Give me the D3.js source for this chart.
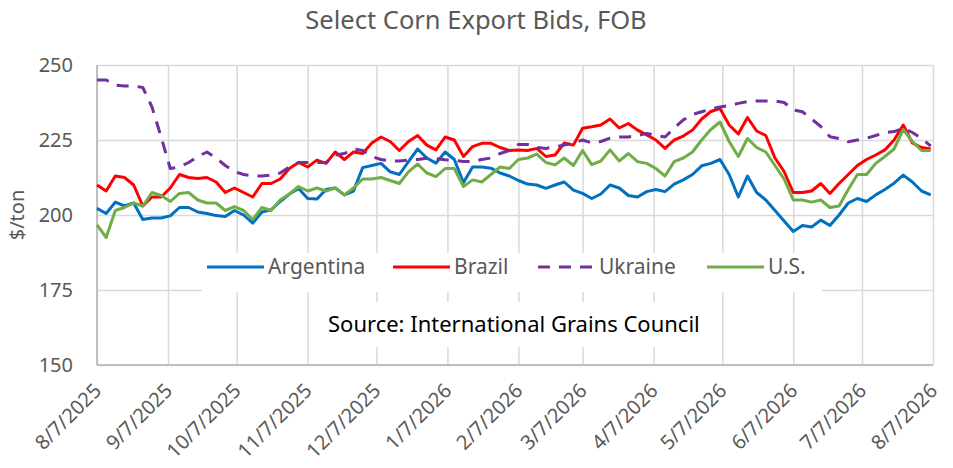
<!DOCTYPE html>
<html>
<head>
<meta charset="utf-8">
<script src="https://cdn.jsdelivr.net/npm/d3@7"></script>
<style>
  body { margin: 0; background: #fff; }
  svg { display: block; font-family: "Noto Sans", "Open Sans", sans-serif; }
</style>
</head>
<body>
<div id="chart"></div>
<script>
// Chart data (one point every 4 days from 8/7/2025).
const chartTitle = 'Select Corn Export Bids, FOB';
const yTitle = '$/ton';
const sourceNote = 'Source: International Grains Council';
const startDate = '8/7/2025';
const stepDays = 4;
const monthTicks = ['8/7/2025', '9/7/2025', '10/7/2025', '11/7/2025', '12/7/2025', '1/7/2026',
  '2/7/2026', '3/7/2026', '4/7/2026', '5/7/2026', '6/7/2026', '7/7/2026', '8/7/2026'];
const yTicks = [150, 175, 200, 225, 250];
const seriesNames = ['Argentina', 'Brazil', 'Ukraine', 'U.S.'];

const argentina = [202.2, 200.5, 204.3, 203, 204, 198.5, 199, 199, 199.7, 202.5,
  202.5, 201, 200.5, 199.8, 199.5, 201.5, 200, 197.3, 201, 201.7,
  204.5, 207, 208.8, 205.5, 205.3, 208.5, 209, 206.7, 208, 215.8,
  216.5, 217.2, 214.4, 213.5, 217.8, 222, 219, 217.3, 221, 218.5,
  210.8, 216, 216, 215.6, 214, 213, 211.5, 210.3, 210, 208.9,
  210, 211, 208.3, 207.2, 205.5, 207, 210, 209, 206.5, 206,
  207.8, 208.5, 207.8, 210.3, 211.7, 213.5, 216.4, 217.2, 218.5, 213.5,
  206, 213, 207.5, 205, 201.5, 198, 194.5, 196.5, 196, 198.3,
  196.5, 200, 204, 205.5, 204.5, 206.7, 208.5, 210.6, 213.3, 211,
  208, 206.7];
const brazil = [210, 208, 213, 212.5, 210, 203, 206, 206, 209, 213.5,
  212.5, 212.2, 212.5, 211, 207.5, 209, 207.5, 206, 210.5, 210.5,
  212, 215.5, 217.5, 216, 218.3, 217.2, 221, 218.5, 221, 220.5,
  224, 226, 224.5, 221.5, 224.5, 226.5, 223.3, 221.7, 226, 225,
  219.5, 222.8, 223.9, 223.9, 222.5, 221.5, 221.7, 221.5, 222.2, 219.5,
  220, 224, 223.3, 228.9, 229.4, 230, 232, 229, 230.5, 228.3,
  226.7, 225, 222.2, 225, 226.3, 228.3, 232, 234.5, 235.5, 230,
  227, 232.5, 228, 226.5, 219, 214.5, 207.5, 207.5, 208, 210.5,
  207.2, 210.5, 213.5, 216.5, 218.5, 220, 221.7, 225, 230, 224,
  222.5, 222];
const ukraine = [245, 245, 243.3, 243, 243, 242.5, 236, 226, 215.5, 216,
  217.5, 219.5, 221, 219, 216.5, 214.5, 213.5, 213, 213, 213.3,
  214, 216, 217.5, 217.5, 217.5, 217.5, 220, 220.5, 222, 221.5,
  219.5, 218.5, 218, 218, 218.3, 218.5, 218.9, 218.8, 218.4, 218.3,
  217.8, 217.8, 218.5, 219, 220.5, 221.5, 223.5, 223.5, 222.5, 222.2,
  222.7, 223.3, 224, 225, 224, 224.5, 225.6, 226, 226, 226.5,
  227.2, 226.5, 226, 229, 231.7, 233.5, 234.4, 235.3, 236, 236.5,
  237.2, 237.8, 238, 238, 238, 237.5, 235, 234.4, 232, 229.5,
  226.1, 225.5, 224.4, 225, 225.6, 226.5, 227.5, 227.8, 228.9, 227.5,
  225.5, 223];
const usa = [196.7, 192.5, 201.5, 202.5, 204, 203, 207.5, 206.5, 204.5, 207.2,
  207.5, 205, 204, 204, 201.5, 202.8, 201.5, 198.5, 202.5, 201.5,
  205, 207, 209.5, 208, 209, 208, 209, 206.7, 209, 212,
  212, 212.5, 211.5, 210.5, 214.4, 217, 214, 212.8, 215.5, 215.5,
  209.5, 211.7, 211, 213.5, 216, 215.5, 218.5, 219, 220.3, 217.5,
  216.7, 219, 216.5, 221.5, 216.8, 218, 221.7, 218, 220.5, 217.8,
  217.2, 215.5, 213, 217.8, 219, 221, 225, 228.5, 231, 224.5,
  219.5, 225.5, 222.5, 221, 216.5, 212, 205, 205, 204.3, 205,
  202.5, 203, 208.5, 213.5, 213.5, 217.2, 219.5, 222, 228.5, 224.5,
  221.5, 221.5];

const colors = ['#0070C0', '#FF0000', '#7030A0', '#70AD47'];
const dashes = [null, null, '12,9', null];

const width = 953;
const height = 468;
const margin = { top: 65, right: 20, bottom: 103, left: 97 };
const plotW = width - margin.left - margin.right;
const plotH = height - margin.top - margin.bottom;

const parseDate = d3.timeParse('%m/%d/%Y');
const formatDate = d3.timeFormat('%-m/%-d/%Y');
const start = parseDate(startDate);
const dates = argentina.map((_, i) => d3.timeDay.offset(start, i * stepDays));
const tickDates = monthTicks.map(parseDate);

const allSeries = [argentina, brazil, ukraine, usa].map((values, k) => ({
    name: seriesNames[k],
    color: colors[k],
    dash: dashes[k],
    points: values.map((v, i) => ({ date: dates[i], value: v }))
}));

const svg = d3.select('#chart').append('svg')
    .attr('width', width)
    .attr('height', height);

const x = d3.scaleTime()
    .domain([tickDates[0], tickDates[tickDates.length - 1]])
    .range([0, plotW]);
const y = d3.scaleLinear()
    .domain([150, 250])
    .range([plotH, 0]);

const g = svg.append('g')
    .attr('transform', `translate(${margin.left},${margin.top})`);

// Title
svg.append('text')
    .attr('x', 476)
    .attr('y', 29)
    .attr('text-anchor', 'middle')
    .style('font-size', '25.5px')
    .style('fill', '#595959')
    .text(chartTitle);

// y axis with horizontal gridlines
const yAxis = g.append('g')
    .call(d3.axisLeft(y).tickValues(yTicks).tickSize(-plotW).tickPadding(24).tickSizeOuter(0));
yAxis.select('.domain').remove();
yAxis.selectAll('.tick line').attr('stroke', '#d9d9d9').attr('stroke-width', 1.5);
yAxis.selectAll('.tick text')
    .style('font-size', '20px')
    .style('font-family', '"Noto Sans", sans-serif')
    .style('fill', '#595959');

// x axis with vertical gridlines
const xAxis = g.append('g')
    .attr('transform', `translate(0,${plotH})`)
    .call(d3.axisBottom(x).tickValues(tickDates).tickFormat(formatDate).tickSize(-plotH).tickSizeOuter(0));
xAxis.select('.domain').remove();
xAxis.selectAll('.tick line').attr('stroke', '#d9d9d9').attr('stroke-width', 1.5);
xAxis.selectAll('.tick text')
    .attr('x', 0)
    .attr('y', 0)
    .attr('dy', 0)
    .attr('transform', 'translate(5,27) rotate(-45)')
    .attr('text-anchor', 'end')
    .style('font-size', '20px')
    .style('font-family', '"Noto Sans", sans-serif')
    .style('fill', '#595959');

// axis lines
g.append('line')
    .attr('x1', 0).attr('x2', plotW)
    .attr('y1', plotH).attr('y2', plotH)
    .attr('stroke', '#bfbfbf').attr('stroke-width', 2);
g.append('line')
    .attr('x1', 0).attr('x2', 0)
    .attr('y1', 0).attr('y2', plotH)
    .attr('stroke', '#bfbfbf').attr('stroke-width', 2);

// y axis title
svg.append('text')
    .attr('transform', `translate(24,${margin.top + plotH / 2}) rotate(-90)`)
    .attr('text-anchor', 'middle')
    .style('font-size', '20px')
    .style('fill', '#595959')
    .text(yTitle);

// series lines
const line = d3.line()
    .x(d => x(d.date))
    .y(d => y(d.value));

g.selectAll('.series')
    .data(allSeries)
    .enter().append('path')
    .attr('class', 'series')
    .attr('d', d => line(d.points))
    .attr('fill', 'none')
    .attr('stroke', d => d.color)
    .attr('stroke-width', 3)
    .attr('stroke-linejoin', 'round')
    .attr('stroke-dasharray', d => d.dash);

// legend (white box laid over the gridlines)
const legendX = [207, 393, 538, 707];
svg.append('rect')
    .attr('x', 202).attr('y', 253)
    .attr('width', 620).attr('height', 39)
    .attr('fill', '#fff');
const legend = svg.selectAll('.legend')
    .data(allSeries)
    .enter().append('g')
    .attr('class', 'legend')
    .attr('transform', (d, i) => `translate(${legendX[i]},267)`);
legend.append('line')
    .attr('x1', 0).attr('x2', 57)
    .attr('stroke', d => d.color)
    .attr('stroke-width', 3)
    .attr('stroke-dasharray', d => d.dash);
legend.append('text')
    .attr('x', 61)
    .attr('dy', '0.35em')
    .style('font-size', '21px')
    .style('fill', '#595959')
    .text(d => d.name);

// source note
svg.append('rect')
    .attr('x', 318).attr('y', 302)
    .attr('width', 388).attr('height', 45)
    .attr('fill', '#fff');
svg.append('text')
    .attr('x', 328)
    .attr('y', 332)
    .style('font-size', '22px')
    .style('fill', '#000')
    .text(sourceNote);
</script>
</body>
</html>
